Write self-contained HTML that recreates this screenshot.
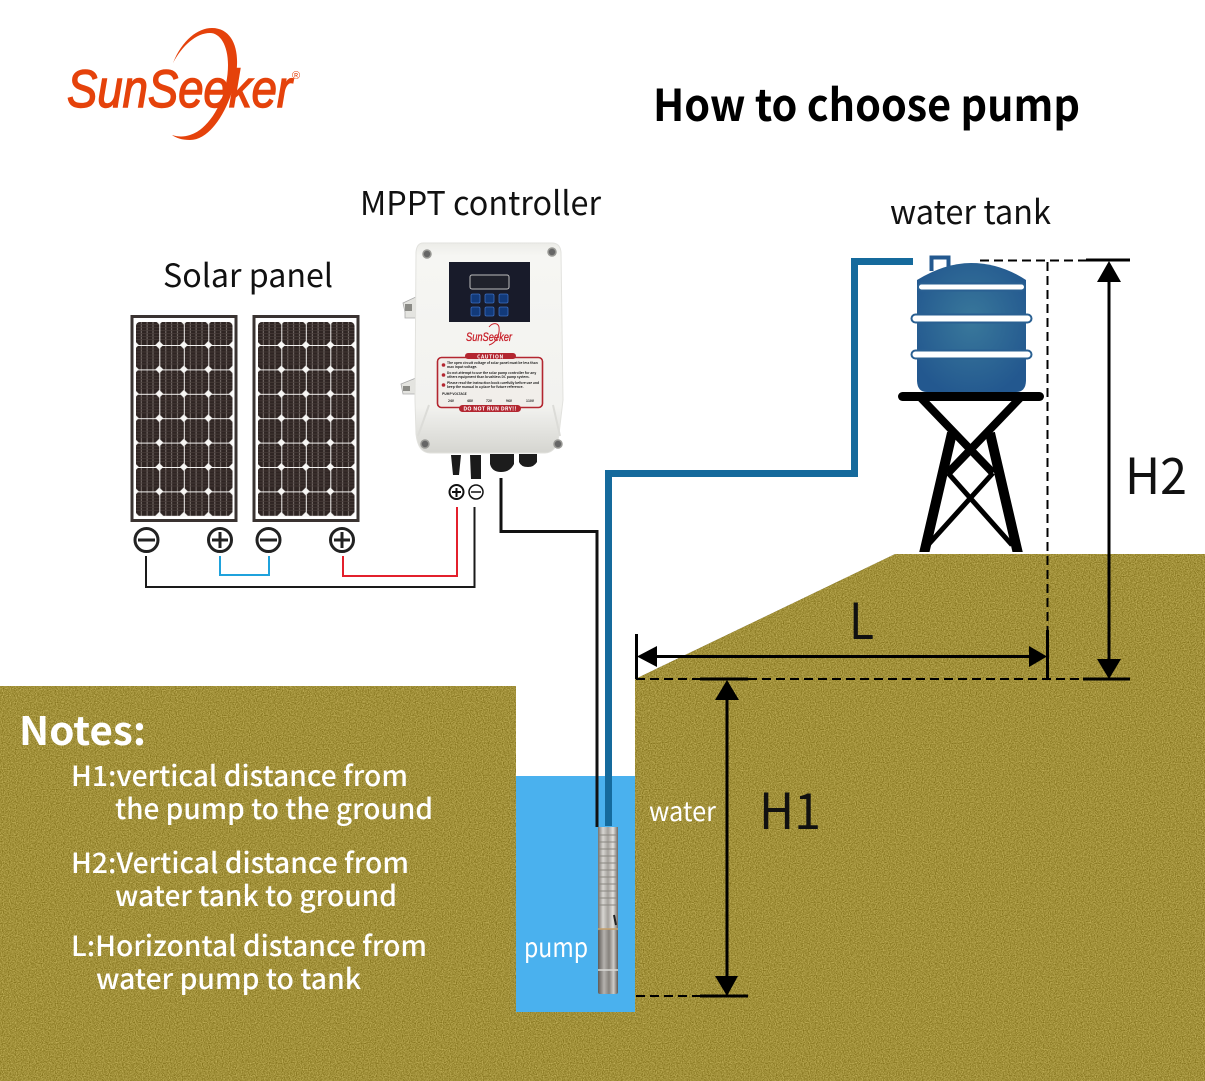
<!DOCTYPE html>
<html><head><meta charset="utf-8"><style>
html,body{margin:0;padding:0;background:#fff}
svg{display:block}
text{font-family:"Noto Sans CJK SC","Liberation Sans",sans-serif}
</style></head><body>
<svg width="1205" height="1081" viewBox="0 0 1205 1081" xmlns="http://www.w3.org/2000/svg">
<defs>
<filter id="n" x="0" y="0" width="100%" height="100%" color-interpolation-filters="sRGB">
<feTurbulence type="fractalNoise" baseFrequency="0.85" numOctaves="2" seed="4" result="t"/>
<feColorMatrix in="t" type="matrix" values="1 0 0 0 0 1 0 0 0 0 1 0 0 0 0 0 0 0 0 1" result="g"/>
<feComposite in="SourceGraphic" in2="g" operator="arithmetic" k1="0" k2="1" k3="0.45" k4="-0.22" result="c"/>
<feComposite in="c" in2="SourceGraphic" operator="in"/>
</filter>
<pattern id="cell" patternUnits="userSpaceOnUse" x="134.8" y="320.6" width="24.5" height="24.4">
<rect width="24.5" height="24.4" fill="#2f2523"/>
<path d="M6.500 0V24.400M12.300 0V24.400M18.200 0V24.400" stroke="#8d8480" stroke-width=".8"/>
<path d="M0 4H24.500M0 7H24.500M0 10H24.500M0 13H24.500M0 16H24.500M0 19H24.500" stroke="#453a37" stroke-width=".8"/>
<path d="M0 .4H24.500M.4 0V24.400" stroke="#f4f2f0" stroke-width="1.200"/>
<path d="M-4 0L0 -4L4 0L0 4ZM20.500 0L24.500 -4L28.500 0L24.500 4ZM-4 24.400L0 20.400L4 24.400L0 28.400ZM20.500 24.400L24.500 20.400L28.500 24.400L24.500 28.400Z" fill="#f7f6f4"/>
</pattern>
<radialGradient id="tank" cx="50%" cy="45%" r="60%"><stop offset="0" stop-color="#39789b"/><stop offset="1" stop-color="#23588f"/></radialGradient>
<linearGradient id="metal" x1="0" x2="1" y1="0" y2="0"><stop offset="0" stop-color="#77736e"/><stop offset=".25" stop-color="#d8d6d2"/><stop offset=".5" stop-color="#a5a19c"/><stop offset=".75" stop-color="#e4e2df"/><stop offset="1" stop-color="#6e6a66"/></linearGradient>
<linearGradient id="metal2" x1="0" x2="1" y1="0" y2="0"><stop offset="0" stop-color="#5e5a56"/><stop offset=".3" stop-color="#b5b2ae"/><stop offset=".55" stop-color="#85817c"/><stop offset=".78" stop-color="#cfcdc9"/><stop offset="1" stop-color="#5c5854"/></linearGradient>
<linearGradient id="box" x1="0" x2="0" y1="0" y2="1"><stop offset="0" stop-color="#ececE8"/><stop offset=".06" stop-color="#f6f6f3"/><stop offset=".78" stop-color="#f2f2ef"/><stop offset="1" stop-color="#d5d5d0"/></linearGradient>
<clipPath id="lg"><rect x="890" y="390" width="160" height="162"/></clipPath>
</defs>

<!-- ground -->
<path d="M0 686H516V1012H635V679L895 554H1205V1081H0Z" fill="#a08f38" filter="url(#n)"/>
<rect x="516" y="776" width="119" height="236" fill="#4ab1ee"/>

<!-- logo -->
<path d="M173 63C182 40 198 28 212 28C230 28 238 45 237 65C236 95 215 140 190 140C182 140 176 138 172 135C178 137 184 137 190 135C212 128 228 95 228 65C228 45 220 33 210 33C196 33 182 46 173 63Z" fill="#e5420b"/>
<text x="67" y="107" font-size="53" font-style="italic" fill="#e5420b" stroke="#e5420b" stroke-width="1.400" textLength="225" lengthAdjust="spacingAndGlyphs" style="font-family:'Liberation Sans',sans-serif">SunSeeker</text>
<text x="292" y="79" font-size="11" fill="#e5420b" style="font-family:'Liberation Sans',sans-serif">®</text>

<!-- headings -->
<text x="653" y="121" font-size="44" font-weight="700" fill="#000" textLength="427" lengthAdjust="spacingAndGlyphs">How to choose pump</text>
<text x="360" y="215" font-size="33" fill="#111" textLength="241" lengthAdjust="spacingAndGlyphs">MPPT controller</text>
<text x="163" y="287" font-size="32" fill="#111" textLength="170" lengthAdjust="spacingAndGlyphs">Solar panel</text>
<text x="890" y="224" font-size="33" fill="#111" textLength="161" lengthAdjust="spacingAndGlyphs">water tank</text>

<!-- solar panels -->
<g>
<rect x="132" y="316.500" width="104" height="204" fill="#fff" stroke="#3a3331" stroke-width="3"/>
<rect x="136" y="322" width="96.500" height="194.500" rx="4" fill="url(#cell)"/>
</g>
<g transform="translate(122,0)">
<rect x="132" y="316.500" width="104" height="204" fill="#fff" stroke="#3a3331" stroke-width="3"/>
<rect x="136" y="322" width="96.500" height="194.500" rx="4" fill="url(#cell)"/>
</g>

<!-- terminals -->
<g fill="none" stroke="#222" stroke-width="3">
<circle cx="146.500" cy="540" r="11.500"/><path d="M138 540H155"/>
<circle cx="220" cy="540" r="11.500"/><path d="M212 540H228M220 532V548"/>
<circle cx="268.500" cy="540" r="11.500"/><path d="M260 540H277"/>
<circle cx="342" cy="540" r="11.500"/><path d="M334 540H350M342 532V548"/>
</g>
<g fill="none" stroke-width="2">
<circle cx="456.500" cy="492" r="7" stroke="#111"/><path d="M452 492H461M456.500 488V497" stroke="#111"/>
<circle cx="476" cy="492" r="7" stroke="#111" stroke-width="1.500"/><path d="M471 492H481" stroke="#111" stroke-width="1.500"/>
</g>
<path d="M146 556V587H474.500V507" fill="none" stroke="#1a1a1a" stroke-width="2"/>
<path d="M220 556V575H269V556" fill="none" stroke="#1fa2dc" stroke-width="2"/>
<path d="M343 556V576H457V507" fill="none" stroke="#e3202c" stroke-width="2"/>

<!-- controller -->
<path d="M403 303L418 296V318H405V312ZM401 384L416 378V394H403Z" fill="#e4e4e0" stroke="#aaa" stroke-width=".8"/>
<rect x="405" y="304" width="7" height="7" fill="#8b8b86"/><rect x="403" y="386" width="7" height="5" fill="#8b8b86"/>
<path d="M451 455H461L459 475H453ZM470 455H481V479H471Z" fill="#1a1a1a"/>
<path d="M490 454H514V464Q510 472 501 472Q492 472 490 464ZM519 454H537V462Q534 467 528 467Q521 467 519 462Z" fill="#1c1c1c"/>
<path d="M423 243H552Q560 243 561 252L563 400L559 434Q557 453 545 453H430Q418 453 416 434L415 400L416 252Q417 243 423 243Z" fill="url(#box)" stroke="#e2e2de" stroke-width="1"/>
<path d="M429 405L418 436M553 405L560 436" stroke="#dcdcd8" stroke-width="2" fill="none"/>
<circle cx="427" cy="254" r="4" fill="#666" stroke="#9a9a96" stroke-width="1.500"/><circle cx="552" cy="252" r="4" fill="#666" stroke="#9a9a96" stroke-width="1.500"/>
<circle cx="425" cy="444" r="4" fill="#666" stroke="#9a9a96" stroke-width="1.500"/><circle cx="558" cy="444" r="4" fill="#666" stroke="#9a9a96" stroke-width="1.500"/>
<rect x="449" y="262" width="81" height="60" fill="#181b2a"/>
<rect x="470" y="275" width="39" height="14" rx="2" fill="#20222c" stroke="#bcbcbc"/>
<g fill="#123a7a" stroke="#3b6dc0" stroke-width=".8">
<rect x="471" y="294" width="9" height="9" rx="1.500"/><rect x="485" y="294" width="9" height="9" rx="1.500"/><rect x="499" y="294" width="9" height="9" rx="1.500"/>
<rect x="471" y="307" width="9" height="9" rx="1.500"/><rect x="485" y="307" width="9" height="9" rx="1.500"/><rect x="499" y="307" width="9" height="9" rx="1.500"/>
</g>
<path d="M489 327C493 322 498 323 499 327C500 335 496 343 489 345" fill="none" stroke="#c8202a" stroke-width="1"/>
<text x="466" y="341" font-size="12" font-style="italic" fill="#c8202a" stroke="#c8202a" stroke-width=".3" textLength="46" lengthAdjust="spacingAndGlyphs" style="font-family:'Liberation Sans',sans-serif">SunSeeker</text>
<rect x="437.500" y="357.500" width="105" height="50" rx="4" fill="#f1eeea" stroke="#b32630" stroke-width="1.600"/>
<rect x="465" y="353" width="51" height="6" rx="3" fill="#b32630"/>
<text x="490.500" y="358.500" font-size="5" font-weight="700" fill="#fff" text-anchor="middle" letter-spacing=".6">CAUTION</text>
<g font-size="3.300" fill="#222" font-weight="700" style="font-family:'Liberation Sans',sans-serif">
<text x="447" y="364">The open circuit voltage of solar panel must be less than</text>
<text x="447" y="368">max input voltage.</text>
<text x="447" y="374">Do not attempt to use the solar pump controller for any</text>
<text x="447" y="378">others equipment than brushless DC pump system.</text>
<text x="447" y="384">Please read the instruction book carefully before use and</text>
<text x="447" y="388">keep the manual in a place for future reference.</text>
<text x="442" y="395">PUMP VOLTAGE</text>
<text x="448" y="402">24V</text><text x="467" y="402">48V</text><text x="486" y="402">72V</text><text x="506" y="402">96V</text><text x="526" y="402">110V</text>
</g>
<circle cx="443.500" cy="365" r="1.800" fill="#b32630"/><circle cx="443.500" cy="375" r="1.800" fill="#b32630"/><circle cx="443.500" cy="385" r="1.800" fill="#b32630"/>
<rect x="459" y="405" width="62" height="7" rx="3.500" fill="#b32630"/>
<text x="490" y="410.700" font-size="5.300" font-weight="700" fill="#fff" text-anchor="middle" letter-spacing=".3">DO NOT RUN DRY!!</text>

<!-- pipes & wires -->
<path d="M913 261.500H854.500V473.500H608.500V826" fill="none" stroke="#156a9c" stroke-width="7"/>
<path d="M501 478V531.500H597V827" fill="none" stroke="#111" stroke-width="3"/>

<!-- tank -->
<path d="M931.500 271V257.500H948.500V268" fill="none" stroke="#23588f" stroke-width="4"/>
<path d="M917 280Q945 263 971 263Q1000 263 1026 280V380Q1026 392 1016 392H927Q917 392 917 380Z" fill="url(#tank)"/>
<g fill="#fff" stroke="#2a6092" stroke-width="2">
<rect x="918" y="283.500" width="107" height="7" rx="3.500"/>
<rect x="911.500" y="314.500" width="120" height="8" rx="4"/>
<rect x="911.500" y="350.500" width="120" height="8" rx="4"/>
</g>
<rect x="898" y="392" width="146" height="9" rx="4.500" fill="#000"/>
<g stroke="#000" fill="none" clip-path="url(#lg)">
<path d="M919 396L993 473M1022 396L948 473" stroke-width="8"/>
<path d="M952 433L923 558M990 433L1019 558" stroke-width="10"/>
<path d="M948 473L1012 545M993 473L928 545" stroke-width="5"/>
</g>

<!-- pump -->
<rect x="598" y="827" width="20" height="102" fill="url(#metal)"/>
<rect x="598" y="929" width="20" height="65" rx="2" fill="url(#metal2)"/>
<path d="M599 835H617M599 842H617M599 849H617M599 856H617M599 863H617M599 870H617M599 877H617M599 884H617M599 891H617M599 898H617M599 905H617" stroke="#8a8781" stroke-width="1"/>
<path d="M598 929H618" stroke="#c6a06a" stroke-width="1.500"/>
<path d="M598 970H618" stroke="#dad9d6" stroke-width="1.500"/>
<path d="M614 915L616 925" stroke="#222" stroke-width="2"/>

<!-- dimensions -->
<g stroke="#000" fill="none">
<path d="M636 679H1085" stroke-width="2" stroke-dasharray="9 5"/>
<path d="M636 996H702" stroke-width="2" stroke-dasharray="9 5"/>
<path d="M1047.500 262V630" stroke-width="2" stroke-dasharray="9 5"/>
<path d="M980 260.500H1086" stroke-width="2" stroke-dasharray="9 5"/>
<path d="M1086 260H1130M1083 679H1130M700 679H748M700 996H748" stroke-width="3"/>
<path d="M636.500 634V679M1047.500 630V679" stroke-width="3"/>
<path d="M650 656.500H1035" stroke-width="3"/>
<path d="M1109 275V665" stroke-width="3"/>
<path d="M727 695V982" stroke-width="3"/>
</g>
<g fill="#000">
<path d="M637 656.500L657 646V667ZM1047 656.500L1029 646V667Z"/>
<path d="M1109 261L1121 282H1097ZM1109 679L1121 659H1097Z"/>
<path d="M727 680L739 700H715ZM727 996L738 976H715Z"/>
</g>
<text x="1125" y="494" font-size="50" fill="#111" textLength="62" lengthAdjust="spacingAndGlyphs">H2</text>
<text x="759" y="829" font-size="50" fill="#111" textLength="62" lengthAdjust="spacingAndGlyphs">H1</text>
<text x="849" y="639" font-size="50" fill="#111" textLength="25" lengthAdjust="spacingAndGlyphs">L</text>

<!-- white labels -->
<g fill="#fff">
<text x="649" y="821" font-size="27" textLength="67" lengthAdjust="spacingAndGlyphs">water</text>
<text x="524" y="957" font-size="27" textLength="64" lengthAdjust="spacingAndGlyphs">pump</text>
<text x="19" y="745" font-size="39" font-weight="700" textLength="127" lengthAdjust="spacingAndGlyphs">Notes:</text>
<g font-size="28" font-weight="500">
<text x="71" y="786" textLength="337" lengthAdjust="spacingAndGlyphs">H1:vertical distance from</text>
<text x="115" y="819" textLength="318" lengthAdjust="spacingAndGlyphs">the pump to the ground</text>
<text x="71" y="873" textLength="338" lengthAdjust="spacingAndGlyphs">H2:Vertical distance from</text>
<text x="115" y="906" textLength="282" lengthAdjust="spacingAndGlyphs">water tank to ground</text>
<text x="71" y="956" textLength="356" lengthAdjust="spacingAndGlyphs">L:Horizontal distance from</text>
<text x="96" y="989" textLength="265" lengthAdjust="spacingAndGlyphs">water pump to tank</text>
</g>
</g>
</svg>
</body></html>
